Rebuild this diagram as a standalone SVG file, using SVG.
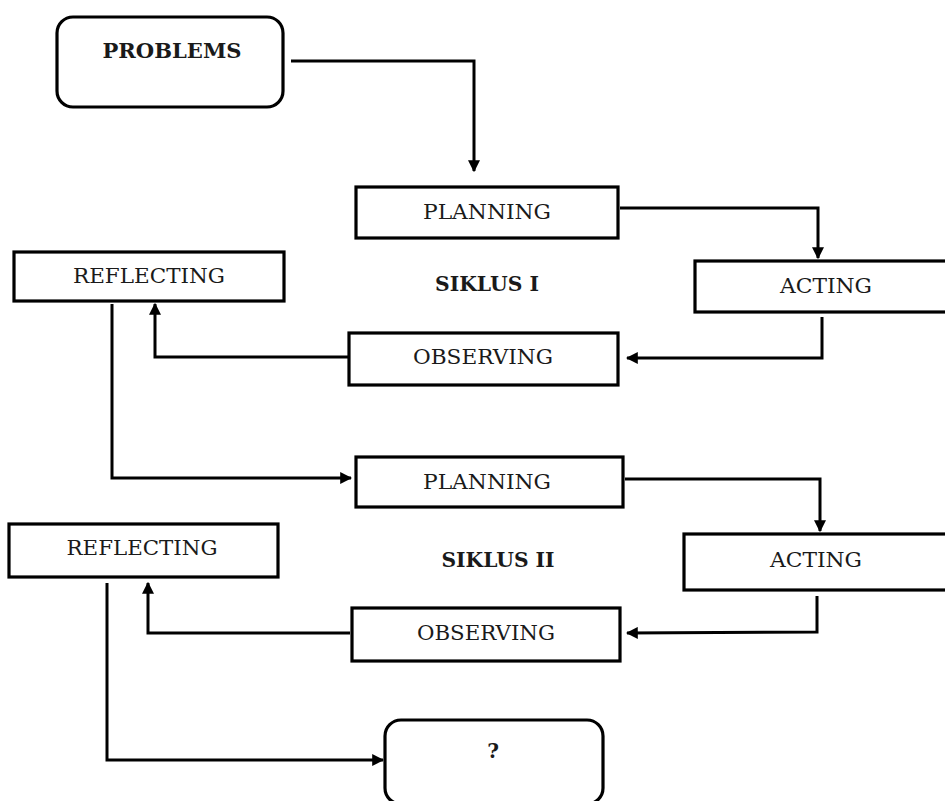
<svg xmlns="http://www.w3.org/2000/svg" width="945" height="801" viewBox="0 0 945 801">
<style>
.box{fill:#fff;stroke:#000;stroke-width:3.2}
.t{font-family:"DejaVu Serif","Liberation Serif",serif;font-size:20px;fill:#1a1a1a;text-anchor:middle}
.b{font-weight:bold}
.c{fill:none;stroke:#000;stroke-width:3}
</style>
<defs>
<marker id="ah" viewBox="0 0 10 10" refX="9" refY="5" markerWidth="4" markerHeight="4" orient="auto" markerUnits="strokeWidth">
<path d="M0,0 L10,5 L0,10 Z" fill="#000"/>
</marker>
</defs>
<rect width="945" height="801" fill="#fff"/>
<g id="connectors">
<polyline class="c" points="291,61 474,61 474,171" marker-end="url(#ah)"/>
<polyline class="c" points="620,208 818,208 818,258" marker-end="url(#ah)"/>
<polyline class="c" points="822,317 822,358 627,358" marker-end="url(#ah)"/>
<polyline class="c" points="348,357 155,357 155,304" marker-end="url(#ah)"/>
<polyline class="c" points="112,304 112,478 351,478" marker-end="url(#ah)"/>
<polyline class="c" points="625,479 820,479 820,531" marker-end="url(#ah)"/>
<polyline class="c" points="817,596 817,632 627,633" marker-end="url(#ah)"/>
<polyline class="c" points="350,633 148,633 148,583" marker-end="url(#ah)"/>
<polyline class="c" points="107,583 107,760 383,760" marker-end="url(#ah)"/>
</g>
<g id="problems">
<rect class="box" x="57" y="17" width="226" height="90" rx="16"/>
<text class="t b" x="172" y="58" textLength="139" lengthAdjust="spacingAndGlyphs">PROBLEMS</text>
</g>
<g id="planning1">
<rect class="box" x="356" y="187" width="262" height="51"/>
<text class="t" x="487" y="219" textLength="128" lengthAdjust="spacingAndGlyphs">PLANNING</text>
</g>
<g id="siklus1">
<text class="t b" x="487" y="291" textLength="104" lengthAdjust="spacingAndGlyphs">SIKLUS I</text>
</g>
<g id="acting1">
<rect class="box" x="695" y="261" width="252" height="51"/>
<text class="t" x="826" y="293" textLength="92" lengthAdjust="spacingAndGlyphs">ACTING</text>
</g>
<g id="observing1">
<rect class="box" x="349" y="333" width="269" height="52"/>
<text class="t" x="483" y="364" textLength="140" lengthAdjust="spacingAndGlyphs">OBSERVING</text>
</g>
<g id="reflecting1">
<rect class="box" x="14" y="252" width="270" height="49"/>
<text class="t" x="149" y="283" textLength="152" lengthAdjust="spacingAndGlyphs">REFLECTING</text>
</g>
<g id="planning2">
<rect class="box" x="356" y="457" width="267" height="50"/>
<text class="t" x="487" y="489" textLength="128" lengthAdjust="spacingAndGlyphs">PLANNING</text>
</g>
<g id="siklus2">
<text class="t b" x="498" y="567" textLength="113" lengthAdjust="spacingAndGlyphs">SIKLUS II</text>
</g>
<g id="acting2">
<rect class="box" x="684" y="534" width="263" height="56"/>
<text class="t" x="816" y="567" textLength="92" lengthAdjust="spacingAndGlyphs">ACTING</text>
</g>
<g id="observing2">
<rect class="box" x="352" y="608" width="268" height="53"/>
<text class="t" x="486" y="640" textLength="138" lengthAdjust="spacingAndGlyphs">OBSERVING</text>
</g>
<g id="reflecting2">
<rect class="box" x="9" y="524" width="269" height="53"/>
<text class="t" x="142" y="555" textLength="151" lengthAdjust="spacingAndGlyphs">REFLECTING</text>
</g>
<g id="result">
<rect class="box" x="385" y="720" width="218" height="84" rx="16"/>
<text class="t b" x="493" y="758" font-size="21">?</text>
</g>
</svg>
